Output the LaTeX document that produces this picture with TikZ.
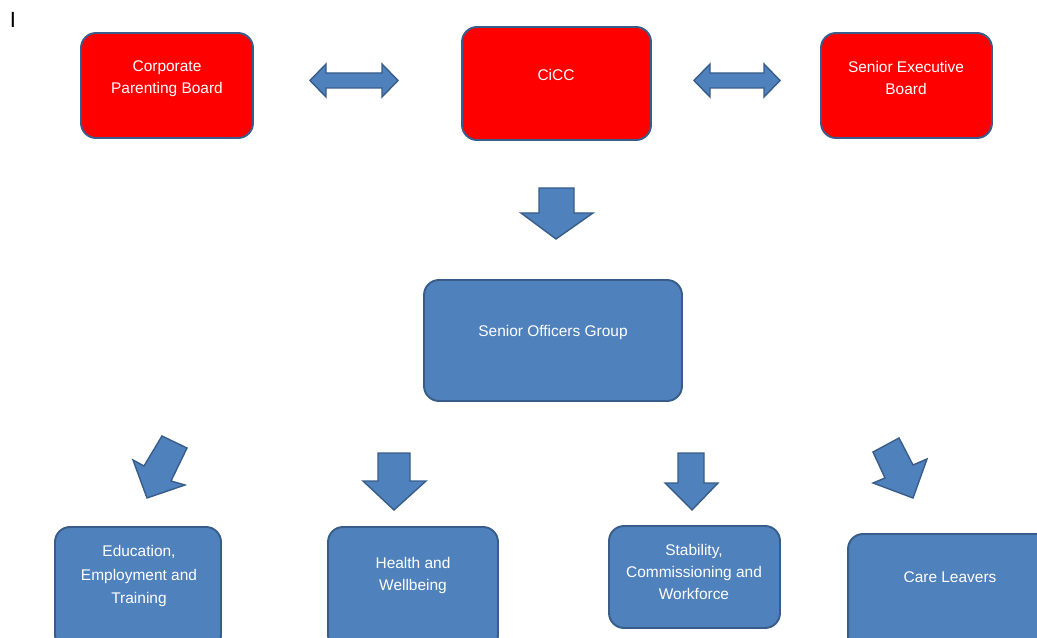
\documentclass[tikz,border=0pt]{standalone}
\usepackage{fontspec}
\setmainfont{Liberation Sans}
\definecolor{boxblue}{HTML}{4F81BD}
\definecolor{edgeblue}{HTML}{385D8A}
\definecolor{boxred}{HTML}{FF0000}
\begin{document}
\begin{tikzpicture}[x=0.02cm,y=-0.02cm,
  redbox/.style={draw=edgeblue,line width=1.1pt,fill=boxred,rounded corners=0.3cm,inner sep=0pt,outer sep=0pt},
  bluebox/.style={draw=edgeblue,line width=1.1pt,fill=boxblue,rounded corners=0.3cm,inner sep=0pt,outer sep=0pt},
  boxtext/.style={text=white,align=center,inner sep=0pt,font=\fontsize{8.8}{12.7}\selectfont},
  blockarrow/.style={draw=edgeblue,line width=0.8pt,fill=boxblue,line join=miter}]
\clip (0,0) rectangle (1037,638);
\fill[white] (0,0) rectangle (1037,638);
\node[inner sep=0pt,font=\fontsize{12.5}{14}\selectfont] (cursor) at (13,20) {I};
% top row
\node[redbox,minimum width=3.44cm,minimum height=2.1cm] (cpb) at (167,85.5) {};
\node[boxtext] (cpbt) at (167,79) {Corporate\\Parenting Board};
\node[redbox,minimum width=3.78cm,minimum height=2.26cm] (cicc) at (556.5,83.5) {};
\node[boxtext] (cicct) at (556,75) {CiCC};
\node[redbox,minimum width=3.42cm,minimum height=2.1cm] (seb) at (906.5,85.5) {};
\node[boxtext] (sebt) at (906,78) {Senior Executive\\Board};
% middle
\node[bluebox,minimum width=5.16cm,minimum height=2.42cm] (sog) at (553,340.5) {};
\node[boxtext] (sogt) at (553,333) {Senior Officers Group};
% bottom row
\node[bluebox,minimum width=3.32cm,minimum height=2.46cm] (edu) at (138,588.5) {};
\node[boxtext,font=\fontsize{8.8}{13.3}\selectfont] (edut) at (139,576) {Education,\\Employment and\\Training};
\node[bluebox,minimum width=3.4cm,minimum height=2.46cm] (hw) at (413,588.5) {};
\node[boxtext] (hwt) at (413,575.5) {Health and\\Wellbeing};
\node[bluebox,minimum width=3.42cm,minimum height=2.04cm] (stab) at (694.5,577) {};
\node[boxtext] (stabt) at (694,572) {Stability,\\Commissioning and\\Workforce};
\node[bluebox,minimum width=4.08cm,minimum height=2.42cm] (care) at (950,594.5) {};
\node[boxtext] (caret) at (950,577) {Care Leavers};
% block arrows
\draw[blockarrow] (310,80.5) -- (326,64) -- (326,73) -- (382,73) -- (382,64) -- (398,80.5) -- (382,97) -- (382,88) -- (326,88) -- (326,97) -- cycle;
\draw[blockarrow] (694,80.5) -- (710,64) -- (710,73) -- (764,73) -- (764,64) -- (780,80.5) -- (764,97) -- (764,88) -- (710,88) -- (710,97) -- cycle;
\draw[blockarrow] (539,188) -- (574,188) -- (574,213) -- (593,213) -- (556,239) -- (521,213) -- (539,213) -- cycle;
\draw[blockarrow] (378,453) -- (410,453) -- (410,481) -- (426,481) -- (394,510) -- (363,481) -- (378,481) -- cycle;
\draw[blockarrow] (678,453) -- (704,453) -- (704,483) -- (718,483) -- (692,510) -- (665,483) -- (678,483) -- cycle;
\draw[blockarrow] (162,436) -- (187,448) -- (171,481) -- (185,485) -- (147,498) -- (133,460) -- (144,466) -- cycle;
\draw[blockarrow] (873,452) -- (899,438) -- (913,465) -- (927,459) -- (913,498) -- (873,483) -- (885,478) -- cycle;
\end{tikzpicture}
\end{document}
